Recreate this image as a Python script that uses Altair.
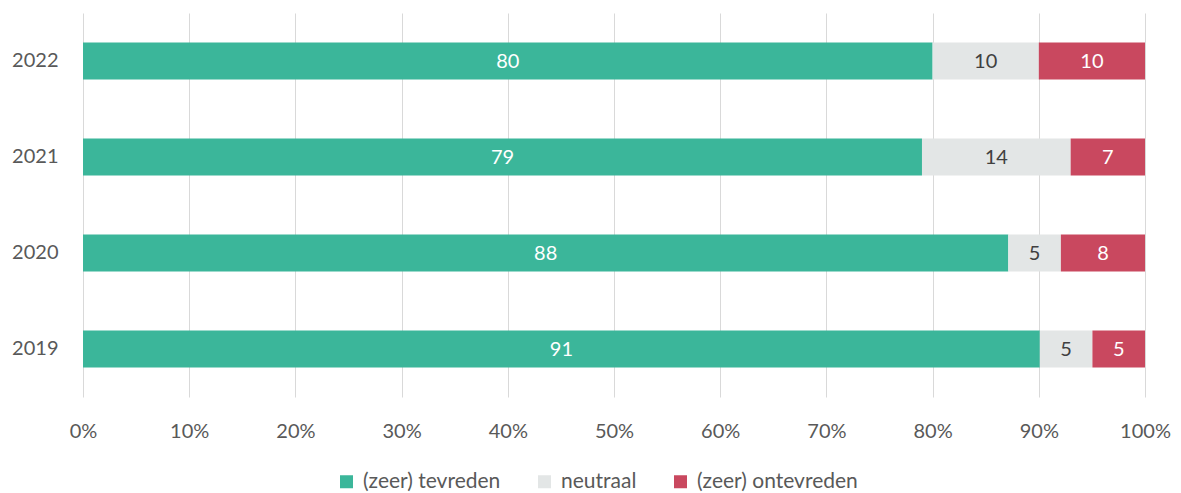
import altair as alt
import pandas as pd

years = ["2022", "2021", "2020", "2019"]
categories = ["(zeer) tevreden", "neutraal", "(zeer) ontevreden"]
tevreden = [80, 79, 88, 91]
neutraal = [10, 14, 5, 5]
ontevreden = [10, 7, 8, 5]
colors = ["#3bb69a", "#e3e6e6", "#c9485f"]
text_colors = ["#ffffff", "#404040", "#ffffff"]

rows = []
for i, y in enumerate(years):
    for j, (c, vals) in enumerate(zip(categories, [tevreden, neutraal, ontevreden])):
        rows.append({"year": y, "cat": c, "value": vals[i], "order": j, "tcolor": text_colors[j]})
df = pd.DataFrame(rows)

FONT = "Lato"

base = alt.Chart(df).transform_stack(
    stack="value", groupby=["year"], as_=["v0", "v1"], offset="normalize",
    sort=[alt.SortField("order", order="ascending")]
).transform_calculate(mid="(datum.v0 + datum.v1) / 2")

yenc = alt.Y("year:N", sort=years, title=None,
             axis=alt.Axis(domain=False, ticks=False, labelPadding=25, labelFontSize=20,
                           labelColor="#595959", labelFont=FONT, minExtent=78, maxExtent=78, grid=False))

bars = base.mark_bar(size=37).encode(
    x=alt.X("v0:Q", scale=alt.Scale(domain=[0, 1], nice=False), title=None,
            axis=alt.Axis(format=".0%", values=[i / 10 for i in range(11)], domain=False, ticks=False,
                          labelPadding=24, labelFontSize=20, labelColor="#595959", labelFont=FONT,
                          labelFlush=False, grid=True, gridColor="#d9d9d9", gridWidth=1)),
    x2="v1:Q",
    y=yenc,
    color=alt.Color("cat:N", scale=alt.Scale(domain=categories, range=colors), title=None,
                    legend=alt.Legend(orient="none", legendX=253, legendY=458, direction="horizontal",
                                      symbolType="square", symbolSize=169, symbolStrokeWidth=0,
                                      labelFontSize=21, labelColor="#595959", labelFont=FONT,
                                      labelLimit=400, columnPadding=33, symbolOffset=0, labelOffset=6)),
    order=alt.Order("order:Q"),
)

texts = base.mark_text(fontSize=20, font=FONT, baseline="middle", align="center", dy=1).encode(
    x="mid:Q",
    y=alt.Y("year:N", sort=years),
    text="value:Q",
    color=alt.Color("tcolor:N", scale=None),
)

chart = alt.layer(bars, texts).properties(
    width=1062, height=384,
    padding={"left": 5, "top": 13, "right": 5, "bottom": 0},
).configure(background="white").configure_view(stroke=None)

chart.save("out.html", embed_options={"renderer": "svg", "actions": False})
